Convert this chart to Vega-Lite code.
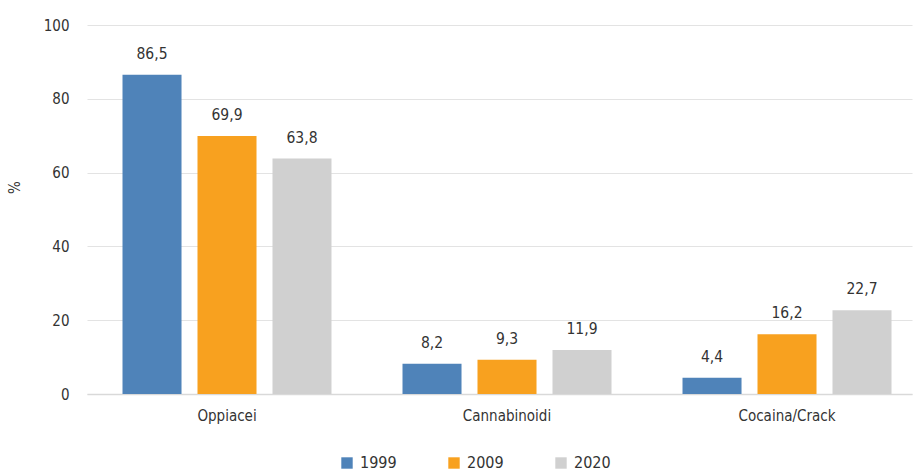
{
  "$schema": "https://vega.github.io/schema/vega-lite/v6.json",
  "width": 825,
  "height": 369,
  "autosize": {"type": "none"},
  "padding": {"left": 87, "top": 25, "right": 4, "bottom": 81},
  "config": {
    "locale": {"number": {"decimal": ",", "thousands": ".", "grouping": [3], "currency": ["€", ""]}},
    "font": "DejaVu Sans Condensed, Roboto, sans-serif",
    "view": {"stroke": null}
  },
  "data": {
    "values": [
      {"categoria": "Oppiacei", "anno": "1999", "valore": 86.5},
      {"categoria": "Oppiacei", "anno": "2009", "valore": 69.9},
      {"categoria": "Oppiacei", "anno": "2020", "valore": 63.8},
      {"categoria": "Cannabinoidi", "anno": "1999", "valore": 8.2},
      {"categoria": "Cannabinoidi", "anno": "2009", "valore": 9.3},
      {"categoria": "Cannabinoidi", "anno": "2020", "valore": 11.9},
      {"categoria": "Cocaina/Crack", "anno": "1999", "valore": 4.4},
      {"categoria": "Cocaina/Crack", "anno": "2009", "valore": 16.2},
      {"categoria": "Cocaina/Crack", "anno": "2020", "valore": 22.7}
    ]
  },
  "encoding": {
    "x": {
      "field": "categoria", "type": "nominal", "sort": null,
      "scale": {"paddingInner": 0.2536, "paddingOuter": 0.1, "align": 0.634},
      "axis": {"title": null, "labelAngle": 0, "labelFontSize": 15, "labelColor": "#333333", "labelPadding": 14, "ticks": false, "domainColor": "#d9d9d9", "domainWidth": 1.5}
    },
    "xOffset": {"field": "anno", "type": "nominal", "scale": {"paddingInner": 0.213, "paddingOuter": 0}},
    "y": {
      "field": "valore", "type": "quantitative",
      "scale": {"domain": [0, 100]},
      "axis": {"title": "%", "titleFontSize": 15, "titleFontWeight": "normal", "titleColor": "#333333", "titlePadding": 21, "titleAngle": -90, "titleY": 162, "values": [0, 20, 40, 60, 80, 100], "labelOverlap": false, "labelFontSize": 15, "labelColor": "#333333", "labelPadding": 18, "ticks": false, "domain": false, "gridColor": "#e3e3e3", "gridWidth": 1.2}
    }
  },
  "layer": [
    {
      "mark": {"type": "bar", "stroke": null},
      "encoding": {
        "color": {
          "field": "anno", "type": "nominal",
          "scale": {"domain": ["1999", "2009", "2020"], "range": ["#4f83b9", "#f8a11f", "#d0d0d0"]},
          "legend": {"title": null, "orient": "none", "legendX": 252, "legendY": 430, "direction": "horizontal", "symbolType": "square", "symbolSize": 130, "symbolStrokeWidth": 0, "labelFontSize": 16, "labelColor": "#333333", "columnPadding": 49, "labelOffset": 5}
        }
      }
    },
    {
      "mark": {"type": "text", "baseline": "bottom", "dy": -13, "fontSize": 15.5, "color": "#333333"},
      "encoding": {
        "text": {"field": "valore", "type": "quantitative", "format": ".1f"}
      }
    }
  ]
}
